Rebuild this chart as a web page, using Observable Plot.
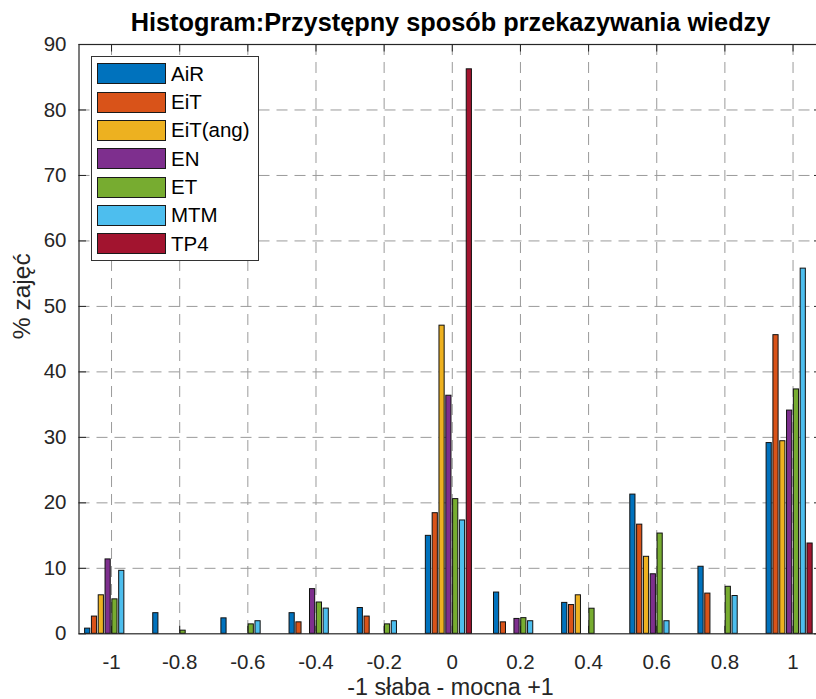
<!DOCTYPE html>
<html>
<head>
<meta charset="utf-8">
<script src="https://cdn.jsdelivr.net/npm/d3@7"></script>
<script src="https://cdn.jsdelivr.net/npm/@observablehq/plot@0.6"></script>
<style>
html, body { margin: 0; padding: 0; background: #fff; overflow: hidden; }
#wrap { position: relative; width: 816px; height: 699px; overflow: hidden;
  font-family: "Liberation Sans", Arial, Helvetica, sans-serif; }
#legend { position: absolute; left: 90.7px; top: 56px; width: 168.3px; height: 204.7px;
  border: 1px solid #333; background: #fff; box-sizing: border-box; }
#legend .row { position: absolute; left: 0; height: 21px; width: 100%; }
#legend .sw { position: absolute; left: 5.6px; top: 0; width: 69px; height: 21px;
  border: 1px solid #1a1a1a; box-sizing: border-box; }
#legend .lbl { position: absolute; left: 79.3px; top: 50%; transform: translateY(-50%);
  font-size: 20.5px; color: #000; white-space: nowrap; line-height: 1; }
</style>
</head>
<body>
<div id="wrap"></div>
<script>
// ---- data ----
const categories = [-1, -0.8, -0.6, -0.4, -0.2, 0, 0.2, 0.4, 0.6, 0.8, 1];
const tickLabels = ["-1", "-0.8", "-0.6", "-0.4", "-0.2", "0", "0.2", "0.4", "0.6", "0.8", "1"];
const seriesNames = ["AiR", "EiT", "EiT(ang)", "EN", "ET", "MTM", "TP4"];
const AiR    = [0.79, 3.15, 2.36, 3.15, 3.94, 14.96, 6.30, 4.72, 21.26, 10.24, 29.13];
const EiT    = [2.63, 0, 0, 1.75, 2.63, 18.42, 1.75, 4.39, 16.67, 6.14, 45.61];
const EiTang = [5.88, 0, 0, 0, 0, 47.06, 0, 5.88, 11.76, 0, 29.41];
const EN     = [11.36, 0, 0, 6.82, 0, 36.36, 2.27, 0, 9.09, 0, 34.09];
const ET     = [5.26, 0.48, 1.44, 4.78, 1.44, 20.57, 2.39, 3.83, 15.31, 7.18, 37.32];
const MTM    = [9.62, 0, 1.92, 3.85, 1.92, 17.31, 1.92, 0, 1.92, 5.77, 55.77];
const TP4    = [0, 0, 0, 0, 0, 86.21, 0, 0, 0, 0, 13.79];
const seriesValues = [AiR, EiT, EiTang, EN, ET, MTM, TP4];
const colors = ["#0072BD", "#D95319", "#EDB120", "#7E2F8E", "#77AC30", "#4DBEEE", "#A2142F"];
const yTicks = [0, 10, 20, 30, 40, 50, 60, 70, 80, 90];
const titleText = "Histogram:Przystępny sposób przekazywania wiedzy";
const xLabel = "-1 słaba - mocna +1";
const yLabel = "% zajęć";

// ---- grouped bar layout in data units ----
const barStep = 0.02, barHalf = 0.0076, groupShift = -0.01;
const bars = [];
seriesNames.forEach((name, i) => {
  seriesValues[i].forEach((v, j) => {
    if (v > 0) {
      const c = categories[j] + (i - 3) * barStep + groupShift;
      bars.push({series: name, x1: c - barHalf, x2: c + barHalf, value: v});
    }
  });
});

const W = 816, H = 699, mL = 78.5, mR = -5.5, mT = 44, mB = 65.7;
const plotW = W - mL - mR, plotH = H - mT - mB, tickLen = 7.5;
const axisColor = "#262626";
const gridStyle = {stroke: "#9a9a9a", strokeWidth: 1, strokeDasharray: "11,7"};
const font = '"Liberation Sans", Arial, Helvetica, sans-serif';

const chart = Plot.plot({
  width: W, height: H,
  marginLeft: mL, marginRight: mR, marginTop: mT, marginBottom: mB,
  style: {fontFamily: font, background: "white"},
  x: {domain: [-1.0955, 1.085], axis: null},
  y: {domain: [0, 90], axis: null},
  color: {domain: seriesNames, range: colors},
  marks: [
    Plot.ruleX(categories, {x: d => d, ...gridStyle}),
    Plot.ruleY(yTicks.slice(1, -1), {y: d => d, ...gridStyle}),
    Plot.ruleX(categories, {x: d => d, stroke: axisColor, insetTop: plotH - tickLen}),
    Plot.ruleX(categories, {x: d => d, stroke: axisColor, insetBottom: plotH - tickLen}),
    Plot.ruleY(yTicks, {y: d => d, stroke: axisColor, insetRight: plotW - tickLen}),
    Plot.ruleY(yTicks, {y: d => d, stroke: axisColor, insetLeft: plotW - tickLen}),
    Plot.rect(bars, {x1: "x1", x2: "x2", y1: 0, y2: "value", fill: "series", stroke: "#111", strokeWidth: 1}),
    Plot.frame({stroke: axisColor, strokeWidth: 1.2}),
    Plot.text(categories, {x: d => d, text: (d, i) => tickLabels[i], frameAnchor: "bottom", dy: 28.2,
      fontSize: 20.5, fill: axisColor, lineAnchor: "middle"}),
    Plot.text(yTicks, {y: d => d, text: d => String(d), frameAnchor: "left", dx: -12.5,
      textAnchor: "end", fontSize: 20.5, fill: axisColor, lineAnchor: "middle"}),
    Plot.text([yLabel], {text: d => d, frameAnchor: "left", dx: -56.5, rotate: -90,
      fontSize: 24.5, fill: axisColor, lineAnchor: "middle"}),
    Plot.text([xLabel], {text: d => d, frameAnchor: "bottom", dy: 60.9,
      fontSize: 23.3, fill: axisColor, lineAnchor: "bottom"}),
    Plot.text([titleText], {text: d => d, frameAnchor: "top", dy: -21.5,
      fontSize: 25.3, fontWeight: "bold", fill: "#000", lineAnchor: "middle"})
  ]
});

const wrap = document.getElementById("wrap");
wrap.appendChild(chart);

// ---- legend (HTML overlay inside the axes) ----
const legend = document.createElement("div");
legend.id = "legend";
seriesNames.forEach((name, i) => {
  const row = document.createElement("div");
  row.className = "row";
  row.style.top = (6.3 + i * 28.3) + "px";
  const sw = document.createElement("span");
  sw.className = "sw";
  sw.style.background = colors[i];
  const lbl = document.createElement("span");
  lbl.className = "lbl";
  lbl.textContent = name;
  row.appendChild(sw);
  row.appendChild(lbl);
  legend.appendChild(row);
});
wrap.appendChild(legend);
</script>
</body>
</html>
